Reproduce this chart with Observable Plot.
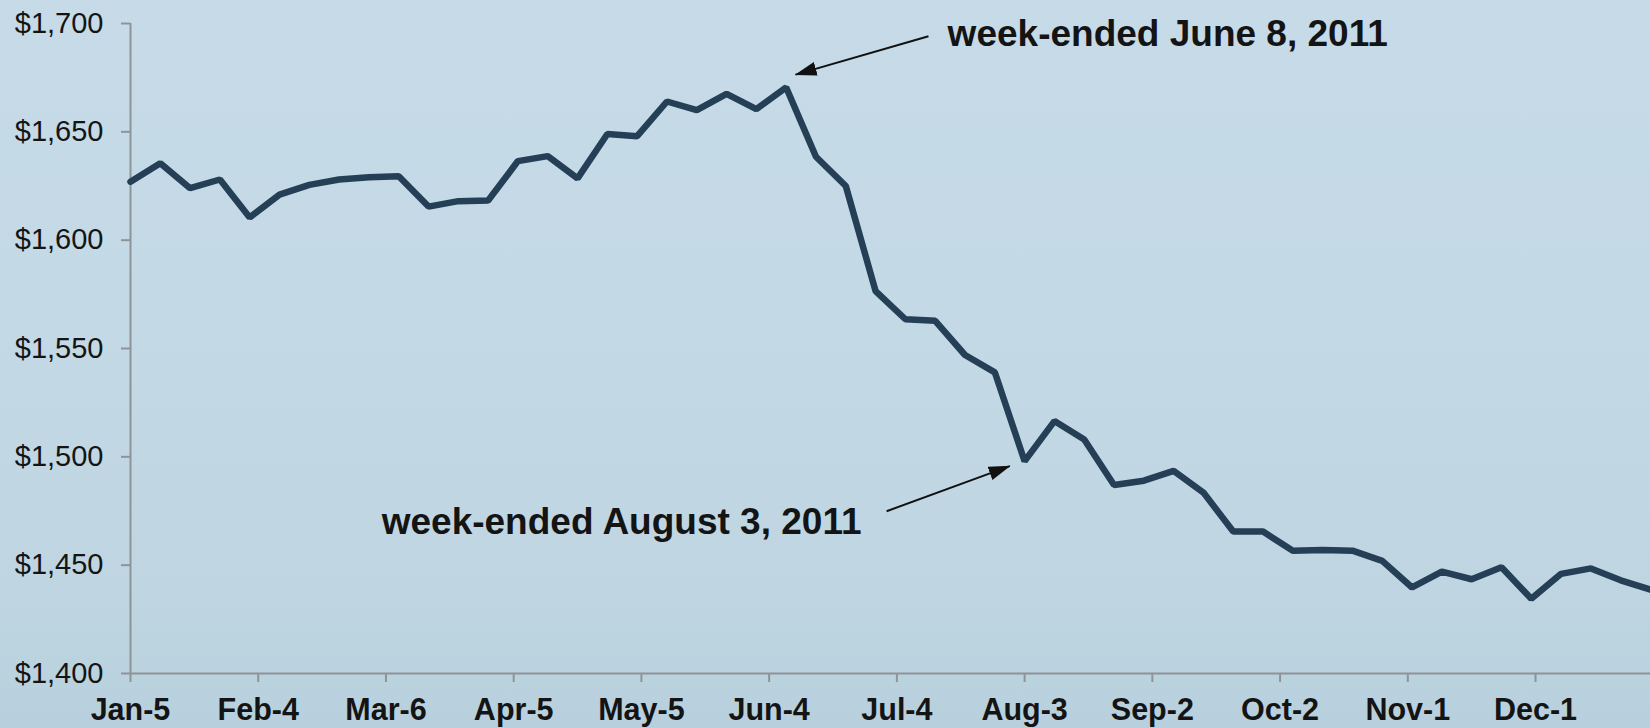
<!DOCTYPE html>
<html>
<head>
<meta charset="utf-8">
<script src="https://cdn.jsdelivr.net/npm/d3@7"></script>
<script src="https://cdn.jsdelivr.net/npm/@observablehq/plot@0.6"></script>
<style>
  html, body { margin: 0; padding: 0; }
  body {
    width: 1650px; height: 728px; overflow: hidden;
    background: linear-gradient(to bottom, #c6dbe7 0%, #c3d9e5 45%, #bfd6e2 80%, #b8d0dd 100%);
    font-family: "Liberation Sans", Arial, sans-serif;
  }
  #chart svg { display: block; }
</style>
</head>
<body>
<div id="chart"></div>
<script>
// Weekly (Wednesday week-ended) dates, 2011
const weekDates = [
  "2011-01-05","2011-01-12","2011-01-19","2011-01-26",
  "2011-02-02","2011-02-09","2011-02-16","2011-02-23",
  "2011-03-02","2011-03-09","2011-03-16","2011-03-23","2011-03-30",
  "2011-04-06","2011-04-13","2011-04-20","2011-04-27",
  "2011-05-04","2011-05-11","2011-05-18","2011-05-25",
  "2011-06-01","2011-06-08","2011-06-15","2011-06-22","2011-06-29",
  "2011-07-06","2011-07-13","2011-07-20","2011-07-27",
  "2011-08-03","2011-08-10","2011-08-17","2011-08-24","2011-08-31",
  "2011-09-07","2011-09-14","2011-09-21","2011-09-28",
  "2011-10-05","2011-10-12","2011-10-19","2011-10-26",
  "2011-11-02","2011-11-09","2011-11-16","2011-11-23","2011-11-30",
  "2011-12-07","2011-12-14","2011-12-21","2011-12-28"
];

// Values ($)
const weekValues = [
  1627, 1635.5, 1624, 1628,
  1610.5, 1621, 1625.5, 1628,
  1629, 1629.5, 1615.5, 1618, 1618.3,
  1636.5, 1638.8, 1628.5, 1649,
  1648, 1664, 1660, 1667.5,
  1660.5, 1670.5, 1638.5, 1625, 1576.5,
  1563.5, 1562.8, 1547, 1539,
  1498, 1516.5, 1508, 1487, 1489,
  1493.5, 1483.5, 1465.5, 1465.5,
  1456.7, 1457, 1456.7, 1452,
  1439.7, 1447, 1443.5, 1449, 1434.5,
  1446, 1448.5, 1443, 1438.7
];

// Axis ticks
const xTickDates = ["2011-01-05","2011-02-04","2011-03-06","2011-04-05","2011-05-05","2011-06-04",
                    "2011-07-04","2011-08-03","2011-09-02","2011-10-02","2011-11-01","2011-12-01"];
const xTickLabels = ["Jan-5","Feb-4","Mar-6","Apr-5","May-5","Jun-4",
                     "Jul-4","Aug-3","Sep-2","Oct-2","Nov-1","Dec-1"];
const yTicks = [1400, 1450, 1500, 1550, 1600, 1650, 1700];
const yTickLabels = ["$1,400","$1,450","$1,500","$1,550","$1,600","$1,650","$1,700"];

// Annotations (anchored in data space)
const noteTexts = ["week-ended June 8, 2011", "week-ended August 3, 2011"];
const noteDates = ["2011-07-15T22:00", "2011-03-05T00:00"];
const noteValues = [1695.3, 1469.8];
const arrowFromDates = ["2011-07-11T10:00", "2011-07-01T14:00"];
const arrowFromValues = [1694.1, 1474.9];
const arrowToDates = ["2011-06-10T05:00", "2011-07-30T12:00"];
const arrowToValues = [1676.4, 1495.7];

const parse = d3.isoParse;
const series = weekDates.map((d, i) => ({date: parse(d), value: weekValues[i]}));
const notes = noteTexts.map((t, i) => ({text: t, date: parse(noteDates[i]), value: noteValues[i]}));
const arrows = arrowFromDates.map((d, i) => ({
  x1: parse(d), y1: arrowFromValues[i], x2: parse(arrowToDates[i]), y2: arrowToValues[i]
}));
const xTicks = xTickDates.map(parse);
const xLabel = new Map(xTickDates.map((d, i) => [+parse(d), xTickLabels[i]]));
const yLabel = new Map(yTicks.map((v, i) => [v, yTickLabels[i]]));

const axisGrey = "#8e9496";
const lineColor = "#243f56";
const textColor = "#141414";

const chart = Plot.plot({
  width: 1650,
  height: 728,
  marginLeft: 130,
  marginRight: 0,
  marginTop: 23,
  marginBottom: 55,
  style: {background: "transparent", fontFamily: "'Liberation Sans', Arial, sans-serif", overflow: "visible"},
  x: {type: "utc", domain: [parse("2011-01-05"), parse("2011-12-28")]},
  y: {domain: [1400, 1700]},
  marks: [
    Plot.axisY({
      ticks: yTicks, tickFormat: v => yLabel.get(v), tickSize: 9, tickPadding: 18,
      stroke: axisGrey, strokeWidth: 2, fill: textColor, fontSize: 29, label: null
    }),
    Plot.axisX({
      ticks: xTicks, tickFormat: d => xLabel.get(+d), tickSize: 9, tickPadding: 16,
      stroke: axisGrey, strokeWidth: 2, fill: textColor, fontSize: 30.5, fontWeight: "bold", label: null
    }),
    Plot.ruleX([parse("2011-01-05")], {y1: 1400, y2: 1700, stroke: axisGrey, strokeWidth: 2}),
    Plot.ruleY([1400], {stroke: axisGrey, strokeWidth: 2}),
    Plot.line(series, {x: "date", y: "value", stroke: lineColor, strokeWidth: 6.5, strokeLinejoin: "miter"}),
    Plot.link(arrows, {x1: "x1", y1: "y1", x2: "x2", y2: "y2", stroke: "#111", strokeWidth: 2}),
    Plot.text(notes, {x: "date", y: "value", text: "text", textAnchor: "start", lineAnchor: "middle",
      fontSize: 37, fontWeight: "bold", fill: textColor})
  ]
});

// filled arrowheads on the annotation links
const svg = d3.select(chart);
const defs = svg.insert("defs", ":first-child");
defs.append("marker")
  .attr("id", "arrowhead")
  .attr("viewBox", "0 0 22 14")
  .attr("markerWidth", 22)
  .attr("markerHeight", 14)
  .attr("markerUnits", "userSpaceOnUse")
  .attr("refX", 21)
  .attr("refY", 7)
  .attr("orient", "auto")
  .append("path")
  .attr("d", "M0,0L22,7L0,14Z")
  .attr("fill", "#111");
svg.selectAll("g[aria-label='link'] path").attr("marker-end", "url(#arrowhead)");

document.getElementById("chart").appendChild(chart);
</script>
</body>
</html>
